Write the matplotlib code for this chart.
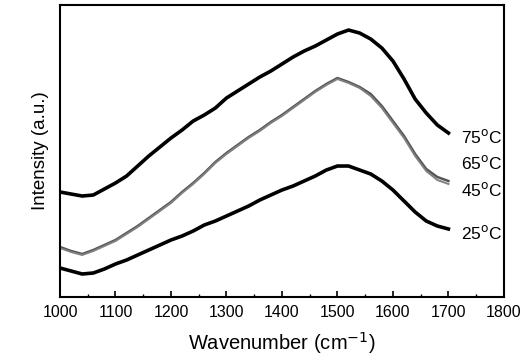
import numpy as np
import matplotlib.pyplot as plt
from matplotlib.ticker import MultipleLocator

plt.rcParams['font.family'] = ['Liberation Sans', 'DejaVu Sans']

# wavenumber grid (cm-1)
wavenumber = [1000, 1020, 1040, 1060, 1080, 1100, 1120, 1140, 1160, 1180,
              1200, 1220, 1240, 1260, 1280, 1300, 1320, 1340, 1360, 1380,
              1400, 1420, 1440, 1460, 1480, 1500, 1520, 1540, 1560, 1580,
              1600, 1620, 1640, 1660, 1680, 1700]

# intensity (a.u.)
i_75 = [105, 103, 101, 102, 108, 114, 121, 131, 141, 150,
        159, 167, 176, 182, 189, 199, 206, 213, 220, 226,
        233, 240, 246, 251, 257, 263, 267, 264, 258, 249,
        236, 218, 198, 184, 172, 164]
i_65 = [50, 46, 43, 47, 52, 57, 64, 71, 79, 87,
        95, 105, 114, 124, 135, 144, 152, 160, 167, 175,
        182, 190, 198, 206, 213, 219, 215, 210, 203, 191,
        176, 161, 143, 128, 120, 116]
i_45 = [49, 45, 42, 46, 51, 56, 63, 70, 78, 86,
        94, 104, 113, 123, 134, 143, 151, 159, 166, 174,
        181, 189, 197, 205, 212, 218, 214, 209, 201, 189,
        174, 159, 141, 126, 117, 113]
i_25 = [29, 26, 23, 24, 28, 33, 37, 42, 47, 52,
        57, 61, 66, 72, 76, 81, 86, 91, 97, 102,
        107, 111, 116, 121, 127, 131, 131, 127, 123, 116,
        107, 96, 85, 76, 71, 68]

labels = ['75$^{\\rm o}$C', '65$^{\\rm o}$C', '45$^{\\rm o}$C', '25$^{\\rm o}$C']
label_y = [160, 134, 107, 64]

fig = plt.figure(figsize=(5.31, 3.6), dpi=100)
ax = fig.add_axes([0.113, 0.175, 0.836, 0.811])

ax.plot(wavenumber, i_75, color='black', lw=2.6)
ax.plot(wavenumber, i_65, color='#555555', lw=1.8)
ax.plot(wavenumber, i_45, color='#808080', lw=1.4)
ax.plot(wavenumber, i_25, color='black', lw=2.6)

for lab, y in zip(labels, label_y):
    ax.text(1722, y, lab, fontsize=12.5, va='center', ha='left')

ax.set_xlim(1000, 1800)
ax.set_ylim(0, 292)
ax.xaxis.set_major_locator(MultipleLocator(100))
ax.xaxis.set_minor_locator(MultipleLocator(50))
ax.tick_params(axis='x', which='major', direction='in', length=4, width=1.2,
               labelsize=11.5, pad=6)
ax.tick_params(axis='x', which='minor', direction='in', length=2.5, width=1)
ax.set_yticks([])
for s in ax.spines.values():
    s.set_linewidth(1.5)

ax.set_xlabel('Wavenumber (cm$^{-1}$)', fontsize=14.5, labelpad=7)
ax.set_ylabel('Intensity (a.u.)', fontsize=13.5, labelpad=8)

plt.savefig('out.png', dpi=100)
